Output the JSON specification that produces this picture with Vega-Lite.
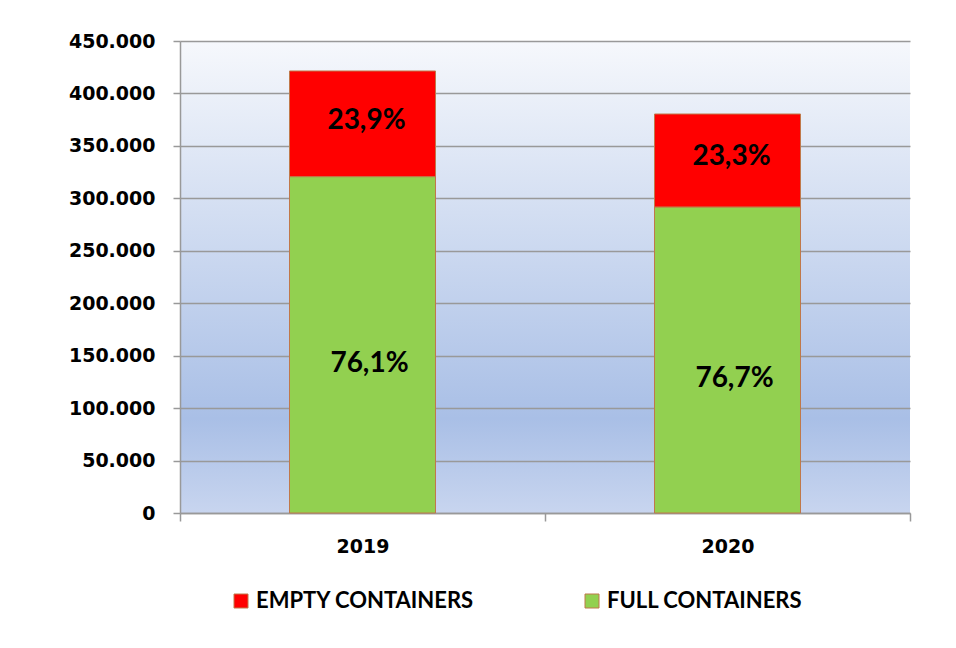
{
  "$schema": "https://vega.github.io/schema/vega-lite/v6.json",
  "width": 730,
  "height": 472,
  "autosize": {"type": "none"},
  "padding": {"left": 180, "top": 41, "right": 46, "bottom": 135},
  "background": "white",
  "config": {
    "locale": {"number": {"decimal": ",", "thousands": ".", "grouping": [3], "currency": ["", " €"]}},
    "view": {
      "stroke": null,
      "fill": {
        "gradient": "linear", "x1": 0, "y1": 0, "x2": 0, "y2": 1,
        "stops": [
          {"offset": 0, "color": "#f6f8fc"},
          {"offset": 0.8, "color": "#a9bfe6"},
          {"offset": 1, "color": "#c8d5ef"}
        ]
      }
    }
  },
  "data": {
    "values": [
      {"year": "2019", "series": "FULL CONTAINERS", "value": 320700, "label": "76,1%"},
      {"year": "2019", "series": "EMPTY CONTAINERS", "value": 100700, "label": "23,9%"},
      {"year": "2020", "series": "FULL CONTAINERS", "value": 291800, "label": "76,7%"},
      {"year": "2020", "series": "EMPTY CONTAINERS", "value": 88600, "label": "23,3%"}
    ]
  },
  "transform": [
    {"stack": "value", "groupby": ["year"], "sort": [{"field": "series", "order": "descending"}], "as": ["v0", "v1"]},
    {"calculate": "(datum.v0 + datum.v1) / 2", "as": "mid"}
  ],
  "encoding": {
    "x": {
      "field": "year", "type": "nominal",
      "scale": {"paddingInner": 0, "paddingOuter": 0},
      "axis": {
        "title": null, "labelAngle": 0, "tickBand": "extent", "tickSize": 8,
        "tickColor": "#999999", "tickWidth": 1.5, "domainColor": "#999999", "domainWidth": 1.5,
        "labelFont": "DejaVu Sans", "labelFontWeight": "bold", "labelFontSize": 19,
        "labelColor": "#000000", "labelPadding": 16, "grid": false
      }
    }
  },
  "layer": [
    {
      "mark": {"type": "bar", "width": {"band": 0.4}, "stroke": "#c0784a", "strokeWidth": 1},
      "encoding": {
        "y": {
          "field": "v0", "type": "quantitative",
          "scale": {"domain": [0, 450000], "nice": false},
          "axis": {
            "title": null, "values": [0, 50000, 100000, 150000, 200000, 250000, 300000, 350000, 400000, 450000],
            "format": ",d", "tickSize": 7, "tickColor": "#999999", "tickWidth": 1.5,
            "domainColor": "#999999", "domainWidth": 1.5,
            "gridColor": "#999999", "gridWidth": 1.5, "grid": true,
            "labelFont": "DejaVu Sans", "labelFontWeight": "bold", "labelFontSize": 19,
            "labelColor": "#000000", "labelPadding": 18
          }
        },
        "y2": {"field": "v1"},
        "color": {
          "field": "series", "type": "nominal",
          "scale": {"domain": ["EMPTY CONTAINERS", "FULL CONTAINERS"], "range": ["#ff0000", "#92d050"]},
          "legend": {
            "title": null, "orient": "none", "legendX": 50, "legendY": 549, "direction": "horizontal",
            "symbolType": "square", "symbolSize": 196, "symbolStrokeColor": "#c0784a", "symbolStrokeWidth": 1,
            "labelFont": "Lato", "labelFontWeight": "bold", "labelFontSize": 22, "labelColor": "#000000",
            "labelOffset": 4, "columnPadding": 106, "labelLimit": 400
          }
        }
      }
    },
    {
      "transform": [{"filter": "datum.series === 'EMPTY CONTAINERS'"}],
      "mark": {"type": "text", "font": "Lato", "fontWeight": "bold", "fontSize": 28, "color": "#000000", "dy": -3, "dx": 4, "baseline": "middle"},
      "encoding": {"y": {"field": "mid", "type": "quantitative"}, "text": {"field": "label"}}
    },
    {
      "transform": [{"filter": "datum.series === 'FULL CONTAINERS'"}],
      "mark": {"type": "text", "font": "Lato", "fontWeight": "bold", "fontSize": 28, "color": "#000000", "dy": 19, "dx": 7, "baseline": "middle"},
      "encoding": {"y": {"field": "mid", "type": "quantitative"}, "text": {"field": "label"}}
    }
  ]
}
